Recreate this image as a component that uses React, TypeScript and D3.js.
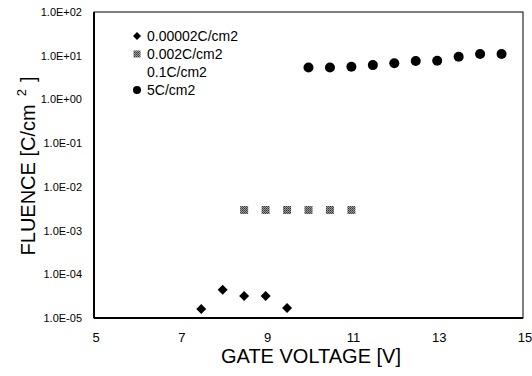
import React from "react";
import * as d3 from "d3";

const W = 532;
const H = 376;

const xTicks = [5, 7, 9, 11, 13, 15];
const yTickLabels = ["1.0E-05", "1.0E-04", "1.0E-03", "1.0E-02", "1.0E-01", "1.0E+00", "1.0E+01", "1.0E+02"];
const yTickValues = [1e-5, 1e-4, 1e-3, 1e-2, 1e-1, 1, 10, 100];

const seriesNames = ["0.00002C/cm2", "0.002C/cm2", "0.1C/cm2", "5C/cm2"];

const diamondX = [7.5, 8, 8.5, 9, 9.5];
const diamondY = [1.6e-5, 4.4e-5, 3.2e-5, 3.2e-5, 1.7e-5];

const squareX = [8.5, 9, 9.5, 10, 10.5, 11];
const squareY = [2.95e-3, 2.95e-3, 2.95e-3, 2.95e-3, 2.95e-3, 2.95e-3];

const circleX = [10, 10.5, 11, 11.5, 12, 12.5, 13, 13.5, 14, 14.5];
const circleY = [5.4, 5.4, 5.6, 6.1, 6.7, 7.6, 7.7, 9.5, 10.9, 10.9];

const left = 94, right = 523, top = 12, bottom = 318;

export default function App() {
  const x = d3.scaleLinear().domain([5, 15]).range([left, right]);
  const y = d3.scaleLog().domain([1e-5, 100]).range([bottom, top]);
  const font = "'Liberation Sans', Arial, sans-serif";

  const diamondPath = (s: number) => `M0,${-s}L${s},0L0,${s}L${-s},0Z`;

  const legendX = 137;
  const legendY0 = 36;
  const legendDy = 18;

  return (
    <svg width={W} height={H} style={{ position: "absolute", left: 0, top: 0, background: "#fff" }}>
      <defs>
        <pattern id="tex" width="2" height="2" patternUnits="userSpaceOnUse">
          <rect width="2" height="2" fill="#999" />
          <rect width="1" height="1" fill="#333" />
          <rect x="1" y="1" width="1" height="1" fill="#555" />
        </pattern>
      </defs>
      {/* frame */}
      <rect x={left} y={top} width={right - left} height={bottom - top} fill="none" stroke="#000" strokeWidth={1} />
      <line x1={left} x2={left} y1={top} y2={bottom} stroke="#000" strokeWidth={2} />
      <line x1={left} x2={right} y1={bottom} y2={bottom} stroke="#000" strokeWidth={2} />

      {/* y tick labels */}
      {yTickValues.map((v, i) => (
        <text key={i} x={82} y={y(v) + 4} textAnchor="end" fontFamily={font} fontSize={11} fill="#000">
          {yTickLabels[i]}
        </text>
      ))}
      {/* x tick labels */}
      {xTicks.map((t) => (
        <text key={t} x={x(t) + 2} y={342} textAnchor="middle" fontFamily={font} fontSize={13} fill="#000">
          {t}
        </text>
      ))}

      {/* axis titles */}
      <text x={311} y={363} textAnchor="middle" fontFamily={font} fontSize={20} fill="#000">
        GATE VOLTAGE [V]
      </text>
      <text transform={`translate(35,166) rotate(-90)`} textAnchor="middle" fontFamily={font} fontSize={20} fill="#000">
        FLUENCE [C/cm<tspan dy={-9} fontSize={13} dx={8}>2</tspan><tspan dy={9} dx={7}>]</tspan>
      </text>

      {/* data */}
      {diamondX.map((d, i) => (
        <path key={"d" + i} d={diamondPath(5)} transform={`translate(${x(d)},${y(diamondY[i])})`} fill="#000" />
      ))}
      {squareX.map((d, i) => (
        <rect key={"s" + i} x={x(d) - 4} y={y(squareY[i]) - 4} width={8} height={8} fill="url(#tex)" />
      ))}
      {circleX.map((d, i) => (
        <circle key={"c" + i} cx={x(d)} cy={y(circleY[i])} r={5} fill="#000" />
      ))}

      {/* legend */}
      {seriesNames.map((n, i) => {
        const ly = legendY0 + i * legendDy;
        return (
          <g key={n}>
            {i === 0 && <path d={diamondPath(4)} transform={`translate(${legendX},${ly})`} fill="#000" />}
            {i === 1 && <rect x={legendX - 3.5} y={ly - 3.5} width={7} height={7} fill="url(#tex)" />}
            {i === 3 && <circle cx={legendX} cy={ly} r={4} fill="#000" />}
            <text x={legendX + 10} y={ly + 5} fontFamily={font} fontSize={14} fill="#000">
              {n}
            </text>
          </g>
        );
      })}
    </svg>
  );
}
